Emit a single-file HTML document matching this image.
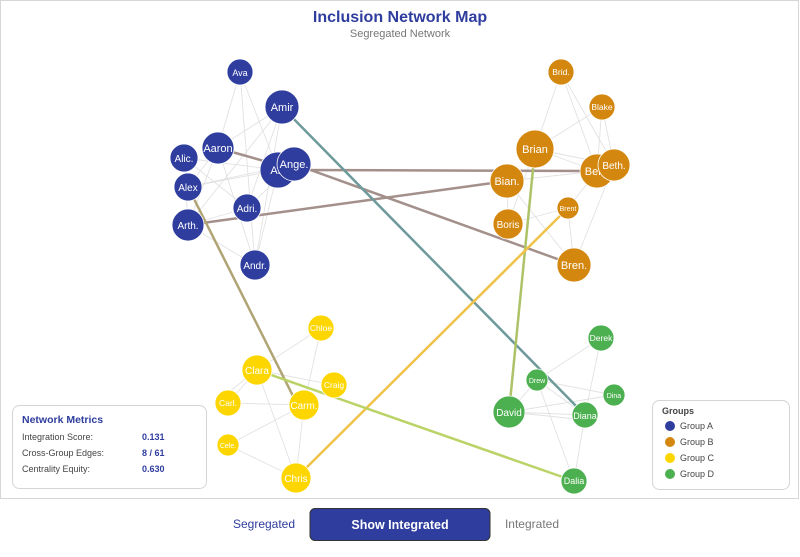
<!DOCTYPE html>
<html><head><meta charset="utf-8"><style>
body{margin:0;background:#fff;width:800px;height:552px;overflow:hidden;font-family:"Liberation Sans",Arial,sans-serif}
svg text{font-family:"Liberation Sans",Arial,sans-serif}
</style></head><body>
<svg width="800" height="552" viewBox="0 0 800 552" xmlns="http://www.w3.org/2000/svg">
<rect x="0.5" y="0.5" width="798" height="498" fill="#fff" stroke="#d6d6d6"/>
<text x="400" y="22" text-anchor="middle" font-size="16" font-weight="bold" fill="#2e3d9e">Inclusion Network Map</text>
<text x="400" y="37" text-anchor="middle" font-size="11" fill="#777">Segregated Network</text>
<g stroke="#e2e2e2" stroke-width="0.9" fill="none">
<path d="M240,72L218,148M240,72L278,170M240,72L255,265M282,107L218,148M282,107L188,225M282,107L255,265M282,107L247,208M218,148L188,187M218,148L188,225M218,148L255,265M184,158L278,170M184,158L247,208M188,187L294,164M188,187L278,170M247,208L188,225M188,225L255,265M278,170L255,265M294,164L247,208M184,158L188,225"/>
<path d="M561,72L535,149M561,72L597,171M561,72L614,165M602,107L535,149M602,107L597,171M602,107L614,165M535,149L597,171M535,149L614,165M507,181L597,171M507,181L508,224M507,181L574,265M535,149L508,224M568,208L508,224M568,208L574,265M614,165L574,265M597,171L568,208"/>
<path d="M321,328L257,370M321,328L304,405M257,370L334,385M257,370L228,403M257,370L296,478M228,403L304,405M228,445L304,405M228,445L296,478M304,405L296,478M257,370L228,403M250,375L222,398"/>
<path d="M601,338L537,380M601,338L585,415M537,380L509,412M537,380L614,395M537,380L574,481M509,412L585,415M509,412L614,395M585,415L574,481M537,380L585,415M509,412L586,420"/>
</g>
<g stroke-width="2.5" fill="none">
<path d="M218,148L278,165" stroke="#a3908a"/>
<path d="M294,170L597,171" stroke="#a3908a"/>
<path d="M294,164L574,265" stroke="#a3908a"/>
<path d="M188,225L507,181" stroke="#a3908a"/>
<path d="M282,107L580,410" stroke="#6e9a9c"/>
<path d="M188,187L296,402" stroke="#b0a474"/>
<path d="M535,149L509,412" stroke="#aec267"/>
<path d="M568,208L296,478" stroke="#efc24a"/>
<path d="M257,370L574,481" stroke="#bad366"/>
</g>
<g stroke="#fff" stroke-width="0.8" font-size="10" fill="#fff" text-anchor="middle">
<g fill="#2e3d9e">
<circle cx="240" cy="72" r="13"/><circle cx="282" cy="107" r="17"/><circle cx="218" cy="148" r="16"/><circle cx="184" cy="158" r="14"/><circle cx="188" cy="187" r="14"/><circle cx="247" cy="208" r="14"/><circle cx="188" cy="225" r="16"/><circle cx="255" cy="265" r="15"/><circle cx="278" cy="170" r="18"/>
</g>
<g stroke="none">
<text x="240" y="76" font-size="9">Ava</text><text x="282" y="111" font-size="11">Amir</text><text x="218" y="152" font-size="11">Aaron</text><text x="184" y="162">Alic.</text><text x="188" y="191">Alex</text><text x="247" y="212">Adri.</text><text x="188" y="229">Arth.</text><text x="255" y="269">Andr.</text><text x="278" y="174" font-size="11">Ali.</text>
</g>
<circle cx="294" cy="164" r="17" fill="#2e3d9e"/><text x="294" y="168" stroke="none" font-size="11">Ange.</text>
<g fill="#d4870e">
<circle cx="561" cy="72" r="13"/><circle cx="602" cy="107" r="13"/><circle cx="535" cy="149" r="19"/><circle cx="507" cy="181" r="17"/><circle cx="568" cy="208" r="11"/><circle cx="508" cy="224" r="15"/><circle cx="574" cy="265" r="17"/><circle cx="597" cy="171" r="17"/>
</g>
<g stroke="none">
<text x="561" y="75" font-size="8.5">Brid.</text><text x="602" y="110" font-size="8.5">Blake</text><text x="535" y="153" font-size="11">Brian</text><text x="507" y="185" font-size="11">Bian.</text><text x="568" y="211" font-size="7">Brent</text><text x="508" y="228">Boris</text><text x="574" y="269" font-size="11">Bren.</text><text x="597" y="175" font-size="11">Bella</text>
</g>
<circle cx="614" cy="165" r="16" fill="#d4870e"/><text x="614" y="169" stroke="none">Beth.</text>
<g fill="#fdd600">
<circle cx="321" cy="328" r="13"/><circle cx="257" cy="370" r="15"/><circle cx="334" cy="385" r="13"/><circle cx="228" cy="403" r="13"/><circle cx="304" cy="405" r="15"/><circle cx="228" cy="445" r="11"/><circle cx="296" cy="478" r="15"/>
</g>
<g stroke="none">
<text x="321" y="331" font-size="8.5">Chloe</text><text x="257" y="374">Clara</text><text x="334" y="388" font-size="8.5">Craig</text><text x="228" y="406" font-size="8.5">Carl.</text><text x="304" y="409">Carm.</text><text x="228" y="448" font-size="7">Cele.</text><text x="296" y="482">Chris</text>
</g>
<g fill="#4caf50">
<circle cx="601" cy="338" r="13"/><circle cx="537" cy="380" r="11"/><circle cx="614" cy="395" r="11"/><circle cx="509" cy="412" r="16"/><circle cx="585" cy="415" r="13"/><circle cx="574" cy="481" r="13"/>
</g>
<g stroke="none">
<text x="601" y="341" font-size="8.5">Derek</text><text x="537" y="383" font-size="7">Drew</text><text x="614" y="398" font-size="7">Dina</text><text x="509" y="416">David</text><text x="585" y="419" font-size="9">Diana</text><text x="574" y="484" font-size="9">Dalia</text>
</g>
</g>
<rect x="12.5" y="405.5" width="194" height="83" rx="7" fill="#fff" stroke="#d4d4d4"/>
<text x="22" y="423" font-size="10.5" font-weight="bold" fill="#2e3d9e">Network Metrics</text>
<g font-size="9" fill="#444"><text x="22" y="440">Integration Score:</text><text x="22" y="456">Cross-Group Edges:</text><text x="22" y="472">Centrality Equity:</text></g>
<g font-size="9" font-weight="bold" fill="#2e3d9e"><text x="142" y="440">0.131</text><text x="142" y="456">8 / 61</text><text x="142" y="472">0.630</text></g>
<rect x="652.5" y="400.5" width="137" height="89" rx="7" fill="#fff" stroke="#d4d4d4"/>
<text x="662" y="414" font-size="9" font-weight="bold" fill="#444">Groups</text>
<g font-size="9" fill="#444"><circle cx="670" cy="426" r="5" fill="#2e3d9e"/><text x="680" y="429">Group A</text>
<circle cx="670" cy="442" r="5" fill="#d4870e"/><text x="680" y="445">Group B</text>
<circle cx="670" cy="458" r="5" fill="#fdd600"/><text x="680" y="461">Group C</text>
<circle cx="670" cy="474" r="5" fill="#4caf50"/><text x="680" y="477">Group D</text></g>
<text x="264" y="528" text-anchor="middle" font-size="12" fill="#2e3d9e">Segregated</text>
<rect x="310" y="508.5" width="180" height="32" rx="5" fill="#2e3d9e" stroke="#333"/>
<text x="400" y="529" text-anchor="middle" font-size="12.5" font-weight="bold" fill="#fff">Show Integrated</text>
<text x="532" y="528" text-anchor="middle" font-size="12" fill="#777">Integrated</text>
</svg>
</body></html>
